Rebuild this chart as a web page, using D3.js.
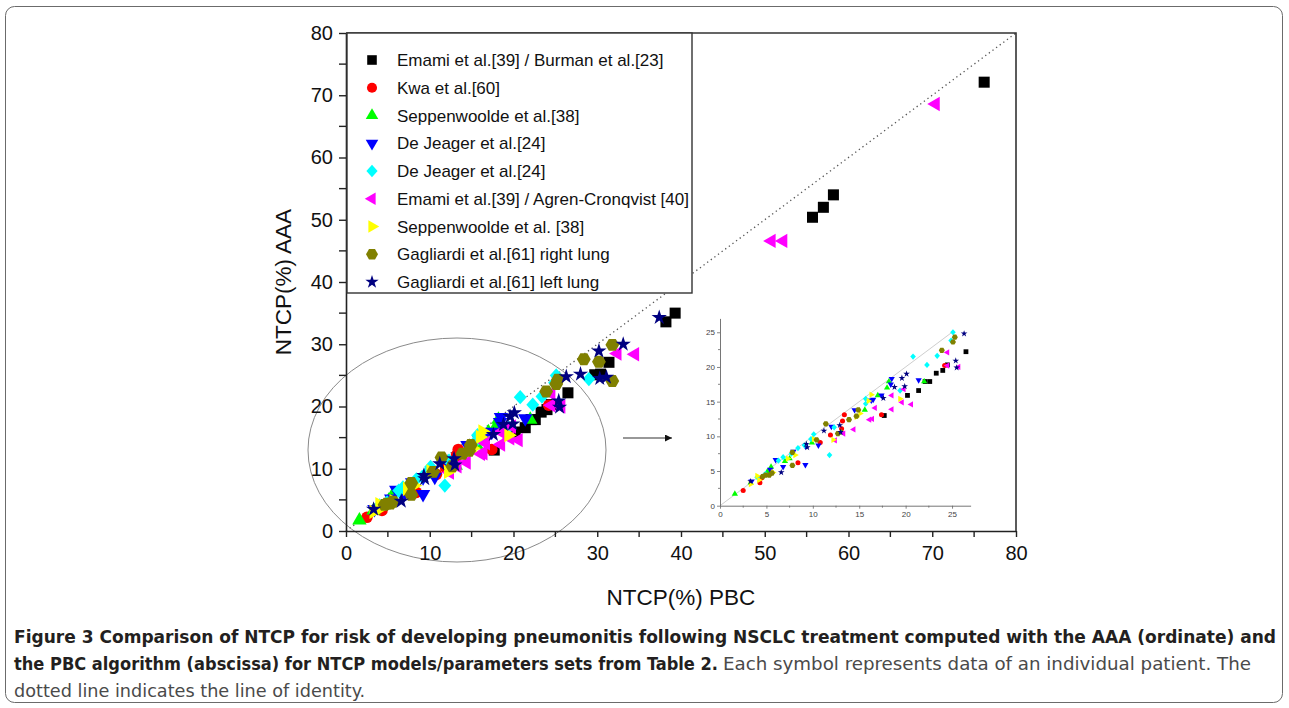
<!DOCTYPE html>
<html>
<head>
<meta charset="utf-8">
<script src="https://cdn.jsdelivr.net/npm/d3@7"></script>
<style>
  body { margin: 0; background: #fff; }
  svg { display: block; }
  .axis text { font-family: "Liberation Sans", Arial, sans-serif; fill: #111; }
  .axisLabel { font-family: "Liberation Sans", Arial, sans-serif; font-size: 22.5px; fill: #111; }
  .legendText { font-family: "Liberation Sans", Arial, sans-serif; font-size: 17px; fill: #111; }
  .caption { font-family: "DejaVu Sans Condensed", "Liberation Sans Narrow", "Noto Sans", sans-serif; font-size: 17.5px; }
</style>
</head>
<body>
<div class="visualization"></div>
<script>
// data: [PBC, AAA] pairs, NTCP in %
const emamiBurman = [[17.7,13.0],[20.2,15.9],[21.4,16.6],[22.1,17.9],[22.6,17.9],[23.3,19.1],[24.0,19.5],[24.5,20.3],[26.5,22.2],
  [29.7,25.1],[30.4,25.2],[31.4,27.1],[38.2,33.6],[39.3,35.0],[55.7,50.4],[57.0,52.0],[58.2,54.0],[76.2,72.1]];
const kwa = [[2.5,2.2],[4.3,3.3],[4.5,4.0],[5.5,4.9],[8.4,6.2],[10.8,9.1],[11.9,10.2],[13.1,11.1],[13.2,12.2],[13.4,13.1],[17.4,13.1],[24.2,20.2]];
const seppenwoolde = [[1.6,1.7],[3.3,3.3],[5.1,4.9],[5.5,5.6],[7.0,6.4],[7.5,6.8],[9.9,9.1],[13.1,10.5],[15.6,13.8],[17.0,15.9],[18.0,17.0],[18.2,17.9],[22.0,17.9]];
const deJeagerA = [[3.4,3.5],[5.4,5.2],[6.0,6.6],[6.8,5.6],[7.9,7.8],[9.2,5.9],[9.2,8.6],[10.6,8.7],[12.0,11.4],[14.5,13.8],[16.3,15.2],[16.5,15.3],[17.4,15.9],[18.4,17.5],[18.5,18.3],[21.4,18.1]];
const deJeagerB = [[4.0,4.1],[4.9,4.6],[6.3,6.5],[6.8,7.0],[7.7,7.5],[8.4,8.3],[9.1,8.7],[9.8,9.6],[10.1,10.3],[11.8,7.3],[12.3,11.3],[15.7,14.7],[15.7,15.4],[19.4,16.6],[20.8,21.5],[22.3,20.3],[23.4,21.6],[24.9,23.8],[25.1,25.0],[29.0,24.4]];
const emamiAgren = [[12.4,9.4],[13.3,10.4],[14.4,11.0],[16.1,12.4],[16.4,12.5],[16.7,14.1],[18.5,13.9],[18.5,15.9],[19.6,14.9],[19.8,16.8],[20.6,14.6],[24.5,22.1],[24.5,20.2],[25.7,20.0],
  [32.4,28.5],[34.5,28.4],[50.8,46.6],[52.2,46.6],[70.4,68.6]];
const seppenwoolde2 = [[3.3,3.1],[4.0,4.3],[4.2,3.7],[5.7,4.8],[7.3,6.8],[8.1,7.3],[10.1,9.6],[12.2,9.5],[14.7,12.8],[15.1,13.3],[16.0,15.1],[16.3,16.0],[19.4,15.4]];
const gagliardiRight = [[4.6,4.2],[4.9,4.4],[5.3,4.4],[5.6,4.7],[7.8,5.8],[7.8,7.7],[10.4,9.5],[11.4,11.8],[12.7,10.4],[13.9,12.4],[14.7,12.9],[14.9,13.8],[23.9,22.4],[25.1,23.6],[25.3,24.3],
  [28.4,27.6],[30.2,27.2],[31.8,29.9],[31.8,24.1]];
const gagliardiLeft = [[3.3,3.5],[6.6,4.8],[9.3,8.9],[9.4,8.4],[11.2,10.8],[12.9,11.6],[13.0,10.6],[17.6,15.5],[18.8,17.1],[19.9,17.2],[19.6,18.4],[20.1,19.0],[25.5,19.9],[25.4,20.9],[26.3,24.8],
  [28.0,25.2],[30.2,28.9],[30.3,24.5],[31.1,24.7],[33.1,30.0],[37.4,34.3]];

const seriesNames = ["Emami et al.[39] / Burman et al.[23]", "Kwa et al.[60]", "Seppenwoolde et al.[38]", "De Jeager et al.[24]",
  "De Jeager et al.[24]", "Emami et al.[39] / Agren-Cronqvist [40]", "Seppenwoolde et al. [38]", "Gagliardi et al.[61] right lung", "Gagliardi et al.[61] left lung"];
const seriesColors = ["#000000", "#ff0000", "#00ff00", "#0000ff", "#00ffff", "#ff00ff", "#ffff00", "#808000", "#000080"];
const seriesShapes = ["square", "circle", "up", "down", "diamond", "left", "right", "hex", "star"];
const seriesData = [emamiBurman, kwa, seppenwoolde, deJeagerA, deJeagerB, emamiAgren, seppenwoolde2, gagliardiRight, gagliardiLeft];

const mainTicks = [0, 10, 20, 30, 40, 50, 60, 70, 80];
const insetTicks = [0, 5, 10, 15, 20, 25];

const width = 1289, height = 708;

var svg = d3.select(".visualization").append("svg")
  .attr("width", width).attr("height", height);

// outer figure border
svg.append("rect").attr("x", 5.5).attr("y", 6.5).attr("width", 1277).attr("height", 696)
  .attr("rx", 9).attr("fill", "none").attr("stroke", "#6b6b6b").attr("stroke-width", 1);

function hexPath(r) {
  var pts = d3.range(6).map(i => [r * Math.cos(i * Math.PI / 3), r * Math.sin(i * Math.PI / 3)]);
  return "M" + pts.join("L") + "Z";
}
function diamondPath(s) {
  var w = s * 0.56, h = s * 0.62;
  return "M0," + (-h) + "L" + w + ",0L0," + h + "L" + (-w) + ",0Z";
}

// returns path string for a marker of given type and nominal size (px)
function marker(shape, s) {
  var a = s * s;
  switch (shape) {
    case "square": return d3.symbol(d3.symbolSquare, a * 0.92)();
    case "circle": return d3.symbol(d3.symbolCircle, a * 0.8)();
    case "up": case "down": case "left": case "right": return d3.symbol(d3.symbolTriangle, a * 0.68)();
    case "diamond": return diamondPath(s);
    case "hex": return hexPath(s * 0.6);
    case "star": return d3.symbol(d3.symbolStar, a * 0.55)();
  }
}
const rot = { up: 0, down: 180, left: -90, right: 90 };
function markerTransform(shape, x, y) {
  return "translate(" + x + "," + y + ")" + (rot[shape] ? " rotate(" + rot[shape] + ")" : "");
}

// ---------------- main plot ----------------
const xMain = d3.scaleLinear().domain([0, 80]).range([346, 1016]);
const yMain = d3.scaleLinear().domain([0, 80]).range([531, 33]);

// identity line
svg.append("line")
  .attr("x1", xMain(0)).attr("y1", yMain(0)).attr("x2", xMain(80)).attr("y2", yMain(80))
  .attr("stroke", "#555").attr("stroke-width", 1.3).attr("stroke-dasharray", "1.3,3.2");

// ellipse highlighting the zoomed area
svg.append("ellipse").attr("cx", 457).attr("cy", 450).attr("rx", 149).attr("ry", 112)
  .attr("fill", "none").attr("stroke", "#8a8a8a").attr("stroke-width", 1);

var mainPts = svg.append("g");
seriesData.forEach(function (data, k) {
  mainPts.selectAll(null).data(data).enter().append("path")
    .attr("d", marker(seriesShapes[k], 11.5))
    .attr("transform", d => markerTransform(seriesShapes[k], xMain(d[0]), yMain(d[1])))
    .attr("fill", seriesColors[k]);
});

// axes
var xaxis = d3.axisBottom(xMain).tickValues(mainTicks).tickSize(6).tickSizeOuter(0).tickPadding(9);
var yaxis = d3.axisLeft(yMain).tickValues(mainTicks).tickSize(7).tickSizeOuter(0).tickPadding(6);
var gx = svg.append("g").attr("class", "axis").attr("transform", "translate(0," + yMain(0) + ")").call(xaxis);
var gy = svg.append("g").attr("class", "axis").attr("transform", "translate(" + xMain(0) + ",0)").call(yaxis);
// minor ticks
gx.selectAll(".minor").data(d3.range(5, 80, 10)).enter().append("line")
  .attr("x1", d => xMain(d)).attr("x2", d => xMain(d)).attr("y1", 0).attr("y2", 6);
gy.selectAll(".minor").data(d3.range(5, 80, 10)).enter().append("line")
  .attr("y1", d => yMain(d)).attr("y2", d => yMain(d)).attr("x1", 0).attr("x2", -7);
[gx, gy].forEach(function (g) {
  g.selectAll("text").style("font-size", "20px");
  g.selectAll("line").attr("stroke", "#222").attr("stroke-width", 1.4);
  g.select(".domain").attr("stroke", "#222").attr("stroke-width", 1.6);
});
// top and right frame
svg.append("path")
  .attr("d", "M" + xMain(0) + "," + yMain(80) + "H" + xMain(80) + "V" + yMain(0))
  .attr("fill", "none").attr("stroke", "#333").attr("stroke-width", 1.6);

svg.append("text").attr("class", "axisLabel").attr("text-anchor", "middle")
  .attr("transform", "translate(291," + yMain(40) + ") rotate(-90)").text("NTCP(%) AAA");
svg.append("text").attr("class", "axisLabel").attr("text-anchor", "middle")
  .attr("x", xMain(40)).attr("y", 605).text("NTCP(%) PBC");

// legend
var legend = svg.append("g");
legend.append("rect").attr("x", 347).attr("y", 33).attr("width", 345).attr("height", 260)
  .attr("fill", "#fff").attr("stroke", "#333").attr("stroke-width", 1.4);
seriesNames.forEach(function (name, k) {
  var ly = 60 + k * 27.75;
  legend.append("path").attr("d", marker(seriesShapes[k], 10))
    .attr("transform", markerTransform(seriesShapes[k], 372, ly)).attr("fill", seriesColors[k]);
  legend.append("text").attr("class", "legendText").attr("x", 397).attr("y", ly + 6).text(name);
});

// arrow to inset
svg.append("defs").append("marker").attr("id", "arrowhead").attr("viewBox", "0 0 10 10")
  .attr("refX", 10).attr("refY", 5).attr("markerWidth", 9).attr("markerHeight", 7)
  .attr("markerUnits", "userSpaceOnUse").attr("orient", "auto")
  .append("path").attr("d", "M0,0L10,5L0,10Z").attr("fill", "#111");
svg.append("line").attr("x1", 623).attr("y1", 438).attr("x2", 672).attr("y2", 438)
  .attr("stroke", "#333").attr("stroke-width", 1.2).attr("marker-end", "url(#arrowhead)");

// ---------------- inset ----------------
const xIn = d3.scaleLinear().domain([0, 27]).range([720, 970.6]);
const yIn = d3.scaleLinear().domain([0, 27]).range([505.7, 318.4]);

svg.append("line").attr("x1", xIn(0)).attr("y1", yIn(0)).attr("x2", xIn(25)).attr("y2", yIn(25))
  .attr("stroke", "#c8c8c8").attr("stroke-width", 0.9);

var insetPts = svg.append("g");
seriesData.forEach(function (data, k) {
  insetPts.selectAll(null).data(data.filter(d => d[0] <= 27 && d[1] <= 27)).enter().append("path")
    .attr("d", marker(seriesShapes[k], 5))
    .attr("transform", d => markerTransform(seriesShapes[k], xIn(d[0]), yIn(d[1])))
    .attr("fill", seriesColors[k]);
});

var gix = svg.append("g").attr("class", "axis").attr("transform", "translate(0," + yIn(0) + ")")
  .call(d3.axisBottom(xIn).tickValues(insetTicks).tickSize(3).tickSizeOuter(0).tickPadding(3));
var giy = svg.append("g").attr("class", "axis").attr("transform", "translate(" + xIn(0) + ",0)")
  .call(d3.axisLeft(yIn).tickValues(insetTicks).tickSize(3).tickSizeOuter(0).tickPadding(2));
gix.selectAll(".minor").data(d3.range(2.5, 27, 5)).enter().append("line")
  .attr("x1", d => xIn(d)).attr("x2", d => xIn(d)).attr("y1", 0).attr("y2", 2);
giy.selectAll(".minor").data(d3.range(2.5, 27, 5)).enter().append("line")
  .attr("y1", d => yIn(d)).attr("y2", d => yIn(d)).attr("x1", 0).attr("x2", -2);
[gix, giy].forEach(function (g) {
  g.selectAll("text").style("font-size", "8px").style("fill", "#444");
  g.selectAll("line").attr("stroke", "#666").attr("stroke-width", 0.8);
  g.select(".domain").attr("stroke", "#666").attr("stroke-width", 0.9);
});

// ---------------- caption ----------------
var cap = svg.append("g").attr("class", "caption");
cap.append("text").attr("x", 14).attr("y", 643).attr("font-weight", "bold").attr("fill", "#231f20")
  .attr("textLength", 1262).attr("lengthAdjust", "spacingAndGlyphs")
  .text("Figure 3 Comparison of NTCP for risk of developing pneumonitis following NSCLC treatment computed with the AAA (ordinate) and");
cap.append("text").attr("x", 14).attr("y", 670).attr("font-weight", "bold").attr("fill", "#231f20")
  .attr("textLength", 704).attr("lengthAdjust", "spacingAndGlyphs")
  .text("the PBC algorithm (abscissa) for NTCP models/parameters sets from Table 2.");
cap.append("text").attr("x", 723).attr("y", 670).attr("fill", "#4a4a4a")
  .attr("textLength", 528).attr("lengthAdjust", "spacingAndGlyphs")
  .text("Each symbol represents data of an individual patient. The");
cap.append("text").attr("x", 14).attr("y", 697).attr("fill", "#4a4a4a")
  .attr("textLength", 351).attr("lengthAdjust", "spacingAndGlyphs")
  .text("dotted line indicates the line of identity.");
</script>
</body>
</html>
